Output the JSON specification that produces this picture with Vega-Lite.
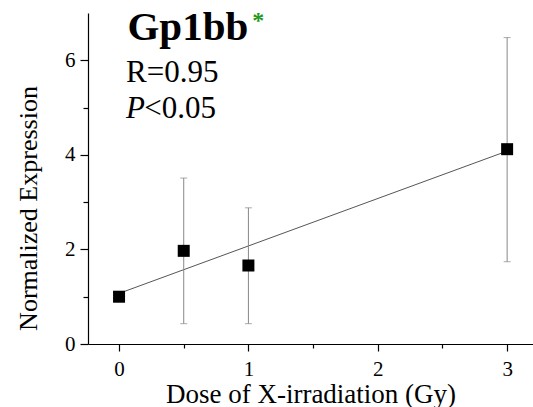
{
  "$schema": "https://vega.github.io/schema/vega-lite/v6.json",
  "width": 445,
  "height": 331,
  "autosize": {"type": "none"},
  "padding": {"left": 88, "top": 13, "right": 0, "bottom": 63},
  "background": "white",
  "config": {
    "view": {"stroke": null},
    "font": "Liberation Serif"
  },
  "datasets": {
    "pts": [
      {"dose": 0, "expr": 1.0, "lo": null, "hi": null},
      {"dose": 0.5, "expr": 1.97, "lo": 0.43, "hi": 3.51},
      {"dose": 1, "expr": 1.66, "lo": 0.43, "hi": 2.88},
      {"dose": 3, "expr": 4.12, "lo": 1.74, "hi": 6.48}
    ],
    "fit": [
      {"dose": 0, "expr": 1.07},
      {"dose": 3, "expr": 4.08}
    ],
    "labels": [
      {"dose": 0.065, "expr": 6.43, "txt": "Gp1bb", "kind": "title"},
      {"dose": 1.03, "expr": 6.68, "txt": "*", "kind": "star"},
      {"dose": 0.054, "expr": 5.54, "txt": "R=0.95", "kind": "r"},
      {"dose": 0.054, "expr": 4.775, "txt": "P", "kind": "p"},
      {"dose": 0.195, "expr": 4.775, "txt": "<0.05", "kind": "pv"}
    ]
  },
  "layer": [
    {
      "data": {"name": "fit"},
      "mark": {"type": "line", "color": "#555555", "strokeWidth": 1},
      "encoding": {
        "x": {
          "field": "dose", "type": "quantitative",
          "scale": {"domain": [-0.24, 3.2], "nice": false, "zero": false},
          "axis": {
            "title": "Dose of X-irradiation (Gy)",
            "values": [0, 0.5, 1, 1.5, 2, 2.5, 3],
            "labelExpr": "datum.value % 1 === 0 ? format(datum.value, 'd') : ''",
            "grid": false,
            "domainColor": "black",
            "domainWidth": 1.2,
            "tickColor": "black",
            "tickWidth": 1.2,
            "tickSize": {"condition": {"test": "datum.value % 1 === 0", "value": 7}, "value": 4},
            "labelFont": "Liberation Serif",
            "labelFontSize": 21,
            "labelColor": "black",
            "labelPadding": 7,
            "labelFlush": false,
            "labelOverlap": false,
            "titleFont": "Liberation Serif",
            "titleFontSize": 27,
            "titleFontWeight": "normal",
            "titleColor": "black",
            "titleBaseline": "alphabetic",
            "titleY": 58
          }
        },
        "y": {
          "field": "expr", "type": "quantitative",
          "scale": {"domain": [0, 7], "nice": false},
          "axis": {
            "title": "Normalized Expression",
            "values": [0, 1, 2, 3, 4, 5, 6],
            "labelExpr": "datum.value % 2 === 0 ? format(datum.value, 'd') : ''",
            "grid": false,
            "domainColor": "black",
            "domainWidth": 1.2,
            "tickColor": "black",
            "tickWidth": 1.2,
            "tickSize": {"condition": {"test": "datum.value % 2 === 0", "value": 8}, "value": 5},
            "labelFont": "Liberation Serif",
            "labelFontSize": 21,
            "labelColor": "black",
            "labelPadding": 5,
            "labelFlush": false,
            "labelOverlap": false,
            "titleFont": "Liberation Serif",
            "titleFontSize": 26,
            "titleFontWeight": "normal",
            "titleColor": "black",
            "titleX": -47,
            "titleY": 195
          }
        }
      }
    },
    {
      "data": {"name": "pts"},
      "mark": {"type": "rule", "color": "#888888", "strokeWidth": 1},
      "encoding": {
        "x": {"field": "dose", "type": "quantitative"},
        "y": {"field": "lo", "type": "quantitative"},
        "y2": {"field": "hi"}
      }
    },
    {
      "data": {"name": "pts"},
      "mark": {"type": "tick", "orient": "horizontal", "color": "#888888", "size": 7, "thickness": 1},
      "encoding": {
        "x": {"field": "dose", "type": "quantitative"},
        "y": {"field": "lo", "type": "quantitative"}
      }
    },
    {
      "data": {"name": "pts"},
      "mark": {"type": "tick", "orient": "horizontal", "color": "#888888", "size": 7, "thickness": 1},
      "encoding": {
        "x": {"field": "dose", "type": "quantitative"},
        "y": {"field": "hi", "type": "quantitative"}
      }
    },
    {
      "data": {"name": "pts"},
      "mark": {"type": "point", "shape": "square", "filled": true, "color": "black", "opacity": 1, "size": 144},
      "encoding": {
        "x": {"field": "dose", "type": "quantitative"},
        "y": {"field": "expr", "type": "quantitative"}
      }
    },
    {
      "data": {"name": "labels"},
      "transform": [{"filter": "datum.kind === 'title'"}],
      "mark": {"type": "text", "align": "left", "baseline": "alphabetic", "font": "Liberation Serif", "fontSize": 41, "fontWeight": "bold", "color": "black"},
      "encoding": {
        "x": {"field": "dose", "type": "quantitative"},
        "y": {"field": "expr", "type": "quantitative"},
        "text": {"field": "txt"}
      }
    },
    {
      "data": {"name": "labels"},
      "transform": [{"filter": "datum.kind === 'star'"}],
      "mark": {"type": "text", "align": "left", "baseline": "alphabetic", "font": "Liberation Serif", "fontSize": 24, "fontWeight": "bold", "color": "#1f9a1f"},
      "encoding": {
        "x": {"field": "dose", "type": "quantitative"},
        "y": {"field": "expr", "type": "quantitative"},
        "text": {"field": "txt"}
      }
    },
    {
      "data": {"name": "labels"},
      "transform": [{"filter": "datum.kind === 'r' || datum.kind === 'pv'"}],
      "mark": {"type": "text", "align": "left", "baseline": "alphabetic", "font": "Liberation Serif", "fontSize": 31, "color": "black"},
      "encoding": {
        "x": {"field": "dose", "type": "quantitative"},
        "y": {"field": "expr", "type": "quantitative"},
        "text": {"field": "txt"}
      }
    },
    {
      "data": {"name": "labels"},
      "transform": [{"filter": "datum.kind === 'p'"}],
      "mark": {"type": "text", "align": "left", "baseline": "alphabetic", "font": "Liberation Serif", "fontSize": 31, "fontStyle": "italic", "color": "black"},
      "encoding": {
        "x": {"field": "dose", "type": "quantitative"},
        "y": {"field": "expr", "type": "quantitative"},
        "text": {"field": "txt"}
      }
    }
  ]
}
